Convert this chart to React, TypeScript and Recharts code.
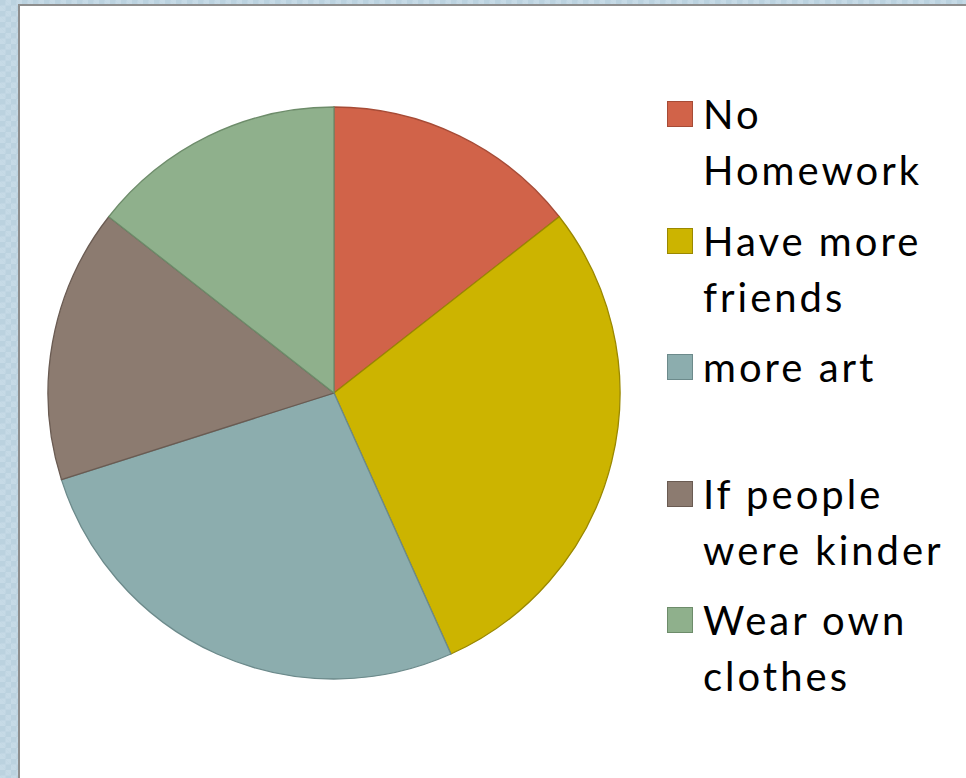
import { PieChart, Pie, Cell, Legend } from "recharts";

const categories = ["No Homework", "Have more friends", "more art", "If people were kinder", "Wear own clothes"];
const votes = [14, 28, 26, 15, 14];
const legendLines = [["No", "Homework"], ["Have more", "friends"], ["more art"], ["If people", "were kinder"], ["Wear own", "clothes"]];
const fills = ["#D16349", "#CCB400", "#8CADAE", "#8C7B70", "#8FB08C"];
const strokes = ["#A64B36", "#9A8800", "#6C8A8B", "#6A5B52", "#6D8C6A"];

const data = categories.map((name, i) => ({ name, value: votes[i] }));

const FONT = "Lato, 'Open Sans', sans-serif";

function renderLegend(props: any) {
  const payload = props.payload || [];
  return (
    <div style={{ fontFamily: FONT, fontSize: 40, color: "#000", letterSpacing: 3 }}>
      {payload.map((entry: any, i: number) => (
        <div key={i} style={{ position: "relative", height: 126.6 }}>
          <div
            style={{
              position: "absolute",
              left: 1,
              top: 15,
              width: 26,
              height: 26,
              boxSizing: "border-box",
              background: fills[i],
              border: `1.5px solid ${strokes[i]}`,
            }}
          />
          <div style={{ position: "absolute", left: 37, top: 0, lineHeight: "56px", whiteSpace: "nowrap" }}>
            {legendLines[i].map((l, j) => (
              <div key={j}>{l}</div>
            ))}
          </div>
        </div>
      ))}
    </div>
  );
}

export default function App() {
  return (
    <div
      style={{
        position: "absolute",
        left: 0,
        top: 0,
        width: 966,
        height: 778,
        overflow: "hidden",
        backgroundColor: "#BBD2DF",
        backgroundImage:
          "linear-gradient(45deg, #C6DAE6 25%, transparent 25%, transparent 75%, #C6DAE6 75%), linear-gradient(45deg, #C6DAE6 25%, transparent 25%, transparent 75%, #C6DAE6 75%)",
        backgroundSize: "11px 11px",
        backgroundPosition: "0 0, 5.5px 5.5px",
      }}
    >
      <div
        style={{
          position: "absolute",
          left: 18,
          top: 4,
          width: 966,
          height: 800,
          background: "#fff",
          borderLeft: "2px solid #8E8E8E",
          borderTop: "2px solid #8E8E8E",
        }}
      />
      <div style={{ position: "absolute", left: 0, top: 0 }}>
        <PieChart width={966} height={778} margin={{ top: 0, right: 0, bottom: 0, left: 0 }}>
          <Pie
            data={data}
            dataKey="value"
            nameKey="name"
            cx={334}
            cy={393}
            outerRadius={286}
            startAngle={90}
            endAngle={-270}
            isAnimationActive={false}
          >
            {data.map((d, i) => (
              <Cell key={d.name} fill={fills[i]} stroke={strokes[i]} strokeWidth={1.3} />
            ))}
          </Pie>
          <Legend
            layout="vertical"
            verticalAlign="top"
            align="right"
            content={renderLegend}
            wrapperStyle={{ left: 666, top: 86, width: 300 }}
          />
        </PieChart>
      </div>
    </div>
  );
}
